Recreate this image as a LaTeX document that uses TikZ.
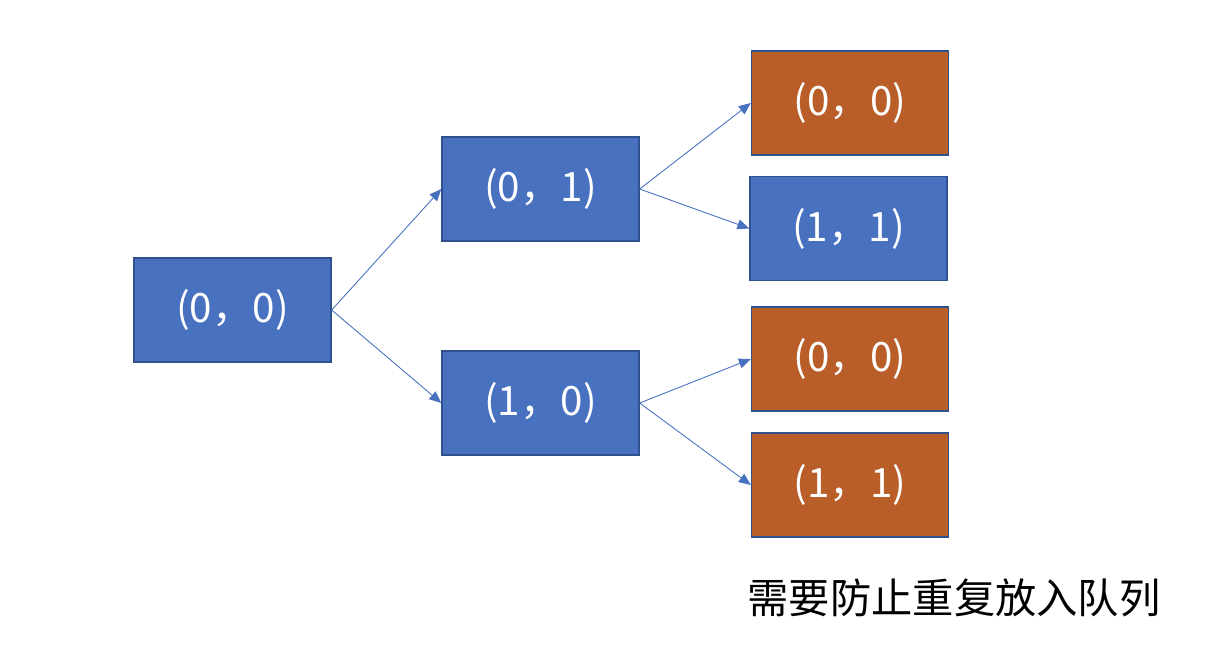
\documentclass[tikz,border=0pt]{standalone}
\usepackage{fontspec}
\newfontfamily\cjk{Noto Sans CJK SC}
\usetikzlibrary{arrows.meta}
\definecolor{boxblue}{RGB}{72,113,192}
\definecolor{boxorange}{RGB}{185,94,40}
\definecolor{boxline}{RGB}{47,82,143}

\begin{document}
\begin{tikzpicture}[x=0.02cm, y=-0.02cm,
		state/.style={draw=boxline, line width=0.8pt, fill=boxblue, text=white, minimum width=3.94cm, minimum height=2.08cm, inner sep=0pt, font=\cjk\fontsize{23}{23}\selectfont},
		repeated/.style={state, fill=boxorange},
		link/.style={draw=boxblue, line width=0.5pt, -{Triangle[length=0.24cm, width=0.2cm]}}]
		\useasboundingbox (0,0) rectangle (1216,670);

		% Start state
		\node[state] (s00) at (232.5,310) {(0，0)};

		% First step
		\node[state] (s01) at (540.5,189) {(0，1)};
		\node[state] (s10) at (540.5,403) {(1，0)};

		% Second step
		\node[repeated] (t00a) at (850,103) {(0，0)};
		\node[state] (t11a) at (848.5,228.5) {(1，1)};
		\node[repeated] (t00b) at (850,359) {(0，0)};
		\node[repeated] (t11b) at (850,485) {(1，1)};

		\draw[link] (s00.east) -- (s01.west);
		\draw[link] (s00.east) -- (s10.west);
		\draw[link] (s01.east) -- (t00a.west);
		\draw[link] (s01.east) -- (t11a.west);
		\draw[link] (s10.east) -- (t00b.west);
		\draw[link] (s10.east) -- (t11b.west);

		\node[font=\cjk\fontsize{23.5}{23.5}\selectfont] (note) at (954,598) {需要防止重复放入队列};
	\end{tikzpicture}
\end{document}
